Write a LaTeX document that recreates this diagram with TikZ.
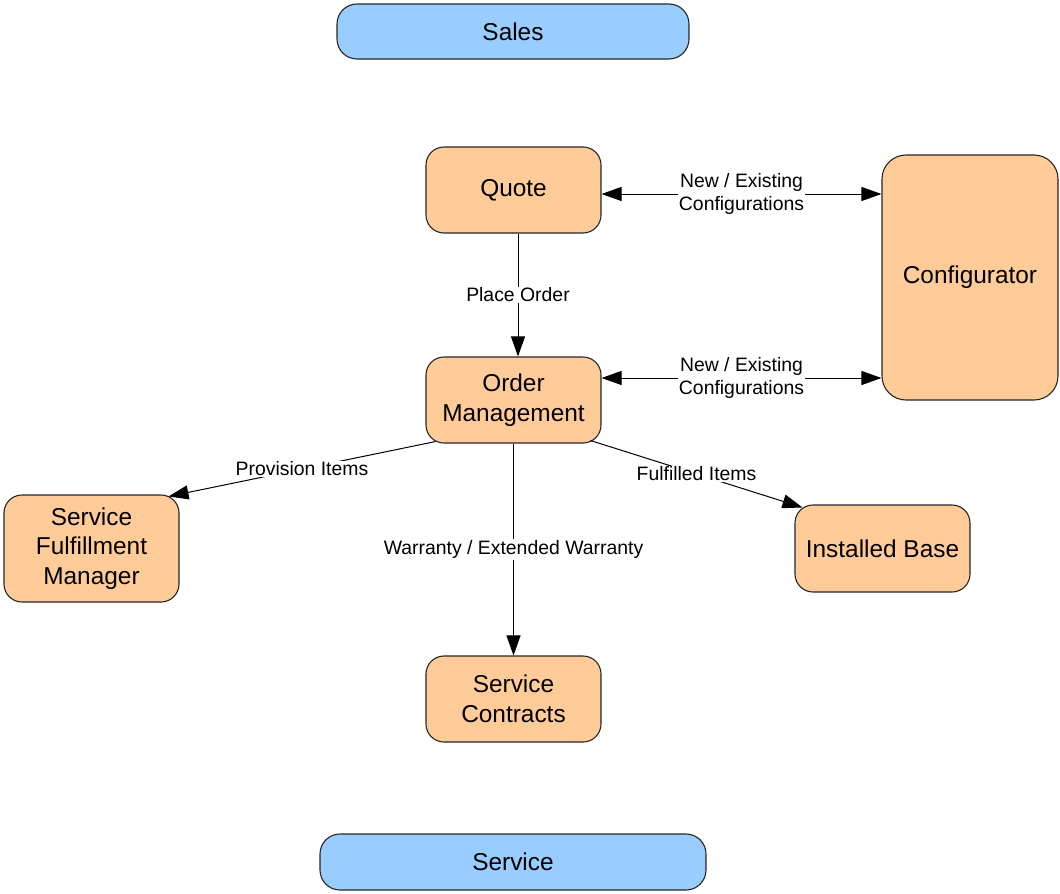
\documentclass[tikz,border=0pt]{standalone}
\usepackage{fontspec}
\setmainfont{Liberation Sans}
\usetikzlibrary{arrows.meta}

\definecolor{boxorange}{HTML}{FFCC99}
\definecolor{boxblue}{HTML}{99CCFF}

\tikzset{
    box/.style={draw=black!85, line width=1.1pt, rounded corners=18pt, fill=boxorange,
        align=center, inner sep=0pt, font=\fontsize{24.4}{29.5}\selectfont,
        minimum width=175pt, minimum height=86pt},
    band/.style={box, fill=boxblue, rounded corners=20pt, minimum height=55pt},
    flow/.style={line width=1pt, -{Triangle[length=20pt,width=14pt]}},
    twoway/.style={flow, {Triangle[length=20pt,width=14pt]}-{Triangle[length=20pt,width=14pt]}},
    lbl/.style={fill=white, inner sep=1pt, align=center, font=\fontsize{19.4}{23}\selectfont},
}

\begin{document}
\begin{tikzpicture}[x=1pt, y=-1pt]

    \useasboundingbox (0,0) rectangle (1060,894);

    % The two bands
    \node[band, minimum width=352pt] (sales) at (513,31.5) {Sales};
    \node[band, minimum width=386pt, minimum height=56pt] (service) at (513,862) {Service};

    % The boxes
    \node[box] (quote) at (513.5,190) {Quote};
    \node[box, minimum width=176pt, minimum height=245pt, rounded corners=24pt] (config) at (970,277.5) {Configurator};
    \node[box] (om) at (513.5,400) {Order\\Management};
    \node[box, minimum height=107pt] (sfm) at (91.5,548.5) {Service\\Fulfillment\\Manager};
    \node[box, minimum height=87pt] (ib) at (882.5,548.5) {Installed Base};
    \node[box] (contracts) at (513.5,699) {Service\\Contracts};

    % Links to the configurator
    \draw[twoway] (quote.east |- 0,194) -- (config.west |- 0,194)
        node[lbl, midway] {New / Existing\\Configurations};
    \draw[twoway] (om.east |- 0,378) -- (config.west |- 0,378)
        node[lbl, midway] {New / Existing\\Configurations};

    % Order flow
    \draw[flow] ([xshift=4.5pt]quote.south) -- ([xshift=4.5pt]om.north)
        node[lbl, midway] {Place Order};
    \draw[flow] ([xshift=10pt, yshift=2pt]om.south west) -- ([xshift=-11pt, yshift=-2pt]sfm.north east)
        node[lbl, pos=0.5] {Provision Items};
    \draw[flow] ([xshift=-11pt, yshift=3pt]om.south east) -- ([xshift=8pt, yshift=-3pt]ib.north west)
        node[lbl, pos=0.5] {Fulfilled Items};
    \draw[flow] (om.south) -- (contracts.north)
        node[lbl, midway] {Warranty / Extended Warranty};

\end{tikzpicture}
\end{document}
